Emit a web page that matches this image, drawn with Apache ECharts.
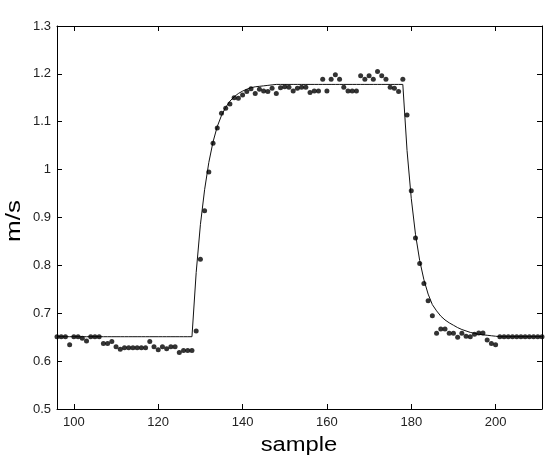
<!DOCTYPE html>
<html>
<head>
<meta charset="utf-8">
<script src="https://cdn.jsdelivr.net/npm/echarts@6/dist/echarts.min.js"></script>
<style>
html,body{margin:0;padding:0;background:#fff;}
#chart{width:550px;height:458px;}
</style>
</head>
<body>
<div id="chart"></div>
<script>
const samples = [96,97,98,99,100,101,102,103,104,105,106,107,108,109,110,111,112,113,114,115,
116,117,118,119,120,121,122,123,124,125,126,127,128,129,130,131,132,133,134,135,
136,137,138,139,140,141,142,143,144,145,146,147,148,149,150,151,152,153,154,155,
156,157,158,159,160,161,162,163,164,165,166,167,168,169,170,171,172,173,174,175,
176,177,178,179,180,181,182,183,184,185,186,187,188,189,190,191,192,193,194,195,
196,197,198,199,200,201,202,203,204,205,206,207,208,209,210,211];

const measured = [0.651,0.651,0.651,0.634,0.651,0.651,0.648,0.642,0.651,0.651,
0.651,0.637,0.637,0.641,0.630,0.625,0.628,0.628,0.628,0.628,
0.628,0.628,0.641,0.630,0.624,0.630,0.626,0.630,0.630,0.618,
0.622,0.622,0.622,0.663,0.813,0.914,0.995,1.055,1.087,1.118,
1.128,1.137,1.150,1.149,1.156,1.163,1.169,1.159,1.168,1.164,
1.163,1.170,1.159,1.171,1.173,1.172,1.164,1.170,1.172,1.172,
1.161,1.164,1.164,1.189,1.164,1.189,1.198,1.189,1.172,1.164,
1.164,1.164,1.196,1.189,1.196,1.189,1.205,1.196,1.189,1.172,
1.170,1.163,1.189,1.114,0.956,0.857,0.804,0.762,0.726,0.695,
0.658,0.667,0.667,0.658,0.658,0.650,0.658,0.652,0.651,0.656,
0.659,0.659,0.644,0.637,0.634,0.651,0.651,0.651,0.651,0.651,
0.651,0.651,0.651,0.651,0.651,0.651];

const model = [0.651,0.651,0.651,0.651,0.651,0.651,0.651,0.651,0.651,0.651,
0.651,0.651,0.651,0.651,0.651,0.651,0.651,0.651,0.651,0.651,
0.651,0.651,0.651,0.651,0.651,0.651,0.651,0.651,0.651,0.651,
0.651,0.651,0.651,0.785,0.885,0.958,1.015,1.058,1.090,1.113,
1.130,1.143,1.152,1.159,1.164,1.168,1.171,1.173,1.174,1.175,
1.176,1.177,1.178,1.178,1.178,1.178,1.178,1.178,1.178,1.178,
1.178,1.178,1.178,1.178,1.178,1.178,1.178,1.178,1.178,1.178,
1.178,1.178,1.178,1.178,1.178,1.178,1.178,1.178,1.178,1.178,
1.178,1.178,1.178,1.040,0.940,0.865,0.810,0.770,0.740,0.718,
0.705,0.694,0.686,0.680,0.675,0.670,0.666,0.663,0.660,0.658,
0.656,0.655,0.654,0.653,0.652,0.651,0.651,0.651,0.651,0.651,
0.651,0.651,0.651,0.651,0.651,0.651];

const xTicks = [100,120,140,160,180,200];
const xTitle = 'sample';
const yTitle = 'm/s';

const chart = echarts.init(document.getElementById('chart'), null, {renderer:'canvas'});
const axisFont = {fontFamily:'Liberation Sans, Arial, sans-serif', fontSize:13, color:'#222'};
const lineStyle = {color:'#000', width:1};

chart.setOption({
  animation:false,
  backgroundColor:'#fff',
  grid:{left:57, right:8, top:26, bottom:49, containLabel:false, outerBoundsMode:'none'},
  graphic:[{
    type:'text', x:299, y:446, scaleX:1.22,
    style:{text:xTitle, font:'19.5px "Liberation Sans", Arial, sans-serif', fill:'#000', align:'center', verticalAlign:'middle'}
  },{
    type:'text', x:14, y:221, rotation:Math.PI/2, scaleX:1.3,
    style:{text:yTitle, font:'20px "Liberation Sans", Arial, sans-serif', fill:'#000', align:'center', verticalAlign:'middle'}
  }],
  xAxis:[{
    type:'value', min:96, max:211, position:'bottom',
    axisLine:{show:true, onZero:false, lineStyle:lineStyle},
    axisTick:{show:true, inside:true, length:5, lineStyle:lineStyle, customValues:xTicks},
    axisLabel:Object.assign({margin:7, customValues:xTicks}, axisFont),
    splitLine:{show:false}
  },{
    type:'value', min:96, max:211, position:'top',
    axisLine:{show:true, onZero:false, lineStyle:lineStyle},
    axisTick:{show:true, inside:true, length:5, lineStyle:lineStyle, customValues:xTicks},
    axisLabel:{show:false},
    splitLine:{show:false}
  }],
  yAxis:[{
    type:'value', min:0.5, max:1.3, interval:0.1, position:'left',
    axisLine:{show:true, onZero:false, lineStyle:lineStyle},
    axisTick:{show:true, inside:true, length:5, lineStyle:lineStyle},
    axisLabel:Object.assign({margin:6, formatter:function(v){return String(Math.round(v*10)/10);}}, axisFont),
    splitLine:{show:false}
  },{
    type:'value', min:0.5, max:1.3, interval:0.1, position:'right',
    axisLine:{show:true, onZero:false, lineStyle:lineStyle},
    axisTick:{show:true, inside:true, length:5, lineStyle:lineStyle},
    axisLabel:{show:false},
    splitLine:{show:false}
  }],
  series:[{
    type:'line',
    data:samples.map(function(x,i){return [x, model[i]];}),
    showSymbol:false, symbol:'none',
    lineStyle:{color:'#111', width:1},
    z:2
  },{
    type:'scatter',
    data:samples.map(function(x,i){return [x, measured[i]];}),
    symbol:'circle', symbolSize:5,
    itemStyle:{color:'#000'},
    z:3
  }]
});
</script>
</body>
</html>
